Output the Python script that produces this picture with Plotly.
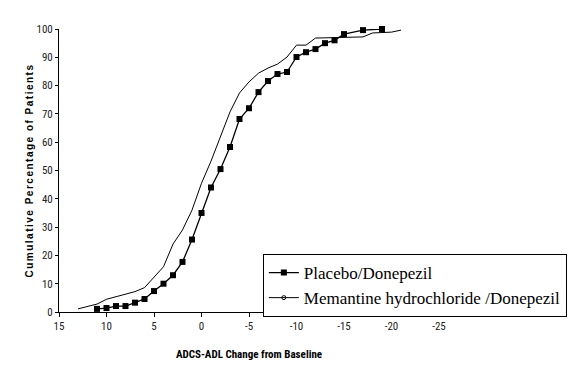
import plotly.graph_objects as go

# Data
placebo_x = [11, 10, 9, 8, 7, 6, 5, 4, 3, 2, 1, 0, -1, -2, -3, -4, -5, -6, -7, -8, -9,
             -10, -11, -12, -13, -14, -15, -17, -19]
placebo_y = [1.1, 1.4, 2.1, 2.1, 3.3, 4.6, 7.4, 10.0, 13.0, 17.7, 25.6, 35.0, 44.0, 50.5,
             58.3, 68.2, 72.0, 77.7, 81.6, 84.1, 84.8, 90.1, 91.8, 92.9, 95.0, 96.0, 98.2,
             99.6, 100.0]

memantine_x = [13, 11, 10, 9, 8, 7, 6, 5, 4, 3, 2, 1, 0, -1, -2, -3, -4, -5, -6, -7, -8,
               -9, -10, -11, -12, -17, -18, -20, -21]
memantine_y = [1.1, 2.8, 4.5, 5.4, 6.3, 7.2, 8.6, 12.5, 16.0, 24.0, 29.0, 36.0, 45.5, 53.3,
               61.8, 70.7, 77.4, 81.3, 84.4, 86.2, 87.6, 90.1, 94.3, 94.3, 96.8, 97.2, 98.6,
               98.9, 99.6]

x_ticks = [15, 10, 5, 0, -5, -10, -15, -20, -25]
x_tick_labels = ["15", "10", "5", "0", "-5", "-10", "-15", "-20", "-25"]
y_ticks = [0, 10, 20, 30, 40, 50, 60, 70, 80, 90, 100]

series_names = ["Placebo/Donepezil", "Memantine hydrochloride /Donepezil"]

narrow = "Roboto Condensed, Liberation Sans Narrow, Arial Narrow, sans-serif"

fig = go.Figure()
fig.add_trace(go.Scatter(
    x=placebo_x, y=placebo_y, mode="lines+markers", name=series_names[0],
    line=dict(color="black", width=1.3),
    marker=dict(symbol="square", size=6, color="black"),
    cliponaxis=False,
))
fig.add_trace(go.Scatter(
    x=memantine_x, y=memantine_y, mode="lines", name=series_names[1],
    line=dict(color="black", width=1), showlegend=False, cliponaxis=False,
))
# legend entry for memantine (small open circle on line)
fig.add_trace(go.Scatter(
    x=[None], y=[None], mode="lines+markers", name=series_names[1],
    line=dict(color="black", width=1),
    marker=dict(symbol="circle-open", size=4, color="black", line=dict(width=1)),
))

fig.update_layout(
    width=569, height=367,
    margin=dict(l=51, r=137, t=21, b=63),
    paper_bgcolor="white", plot_bgcolor="white",
    showlegend=True,
    legend=dict(
        x=1.333, y=0.205, xanchor="right", yanchor="top",
        bordercolor="black", borderwidth=1, bgcolor="white",
        font=dict(family="Liberation Serif, Times New Roman, serif", size=17, color="black"),
        tracegroupgap=0, itemwidth=30,
    ),
    xaxis=dict(
        range=[15, -25], tickvals=x_ticks, ticktext=x_tick_labels,
        showgrid=False, zeroline=False, showline=True, linecolor="black", linewidth=1,
        ticks="outside", ticklen=4, tickcolor="black",
        tickfont=dict(family=narrow, size=11, color="#222"),
        title=dict(text="<b>ADCS-ADL Change from Baseline</b>",
                   font=dict(family=narrow, size=11, color="black"), standoff=18),
    ),
    yaxis=dict(
        range=[0, 100], tickvals=y_ticks,
        showgrid=False, zeroline=False, showline=True, linecolor="black", linewidth=1,
        ticks="outside", ticklen=3, tickcolor="black",
        tickfont=dict(family=narrow, size=11, color="#222"),
        title=dict(text="<span style=\"letter-spacing:1.5px\"><b>Cumulative Percentage of Patients</b></span>",
                   font=dict(family="Liberation Sans, Arial, sans-serif", size=10, color="black"),
                   standoff=1),
    ),
)

fig.write_html("out.html")
